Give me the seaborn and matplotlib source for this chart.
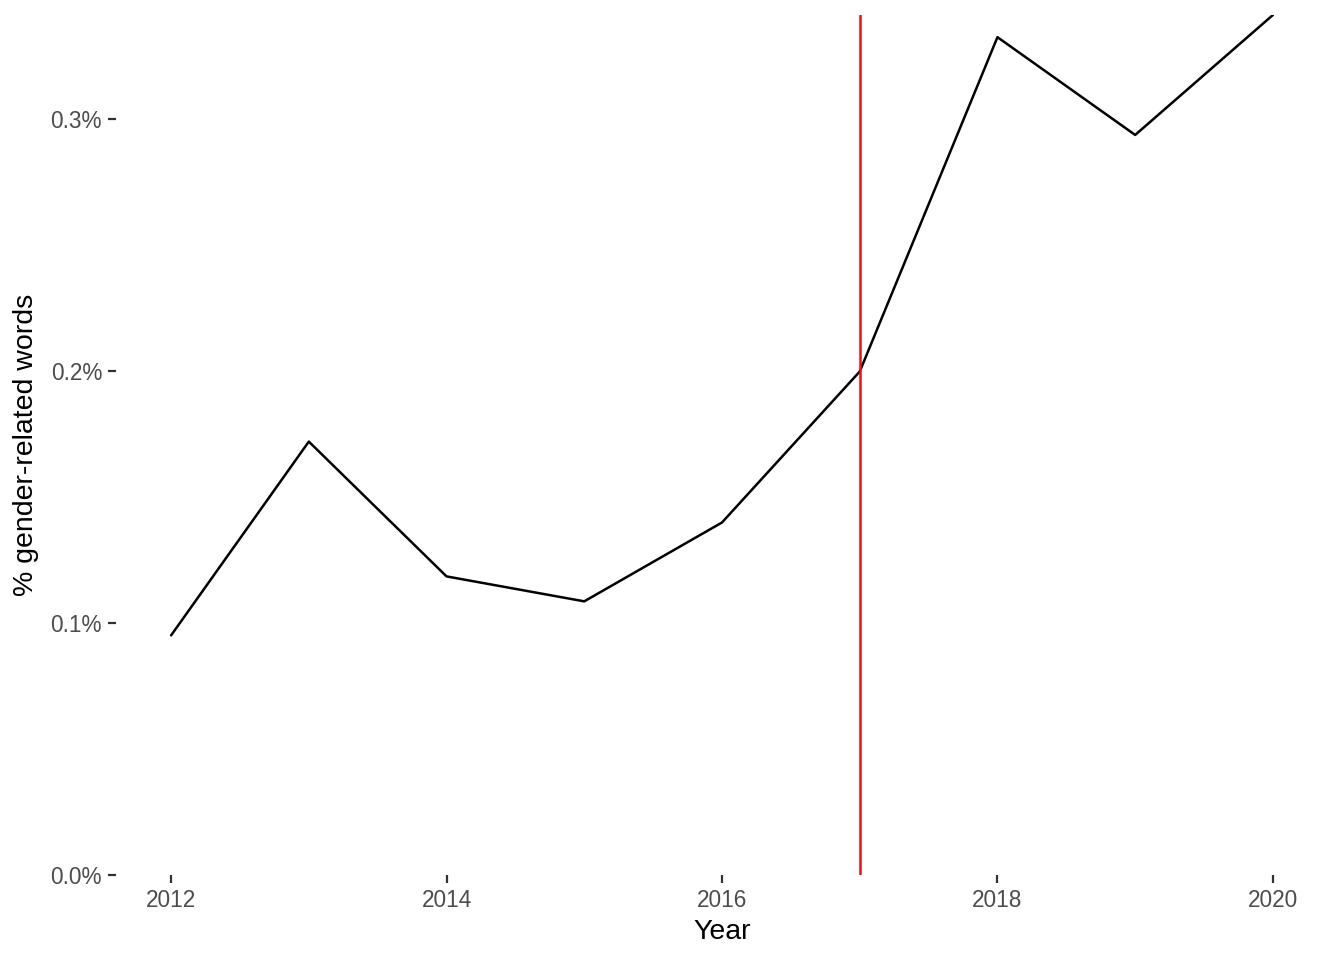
"""Share of gender-related words per year, with a marker line at 2017."""

import matplotlib

matplotlib.use("Agg")

import matplotlib.pyplot as plt
import pandas as pd
import seaborn as sns
from matplotlib.ticker import FuncFormatter

years = [2012, 2013, 2014, 2015, 2016, 2017, 2018, 2019, 2020]
gender_pct = [0.0951, 0.1720, 0.1185, 0.1086, 0.1399, 0.1998, 0.3325, 0.2937, 0.3413]
event_year = 2017
y_ticks = [0.0, 0.1, 0.2, 0.3]
x_ticks = [2012, 2014, 2016, 2018, 2020]

df = pd.DataFrame({"year": years, "pct": gender_pct})

sns.set_theme(style="white")
plt.rcParams["font.family"] = ["Liberation Sans", "DejaVu Sans"]

fig = plt.figure(figsize=(13.44, 9.6), dpi=100)
ax = fig.add_axes([116 / 1344, 85 / 960, (1328 - 116) / 1344, (875 - 15) / 960])

sns.lineplot(data=df, x="year", y="pct", color="black", linewidth=1.8, ax=ax)
ax.axvline(event_year, color="#E8101A", linewidth=1.8)

span = years[-1] - years[0]
ax.set_xlim(years[0] - 0.05 * span, years[-1] + 0.05 * span)
ax.set_ylim(0, max(gender_pct))

ax.set_xticks(x_ticks)
ax.set_yticks(y_ticks)
ax.yaxis.set_major_formatter(FuncFormatter(lambda v, _: f"{v:.1f}%"))

for side in ("top", "right", "bottom", "left"):
    ax.spines[side].set_visible(False)

ax.tick_params(axis="both", which="major", length=6, width=1.6, color="#333333",
               labelsize=16.3, labelcolor="#4D4D4D", pad=4, bottom=True, left=True)

ax.set_xlabel("Year", fontsize=20.5, color="black", labelpad=5)
ax.set_ylabel("% gender-related words", fontsize=20.5, color="black", labelpad=8)
ax.grid(False)

fig.savefig("out.png", dpi=100)
plt.close(fig)
